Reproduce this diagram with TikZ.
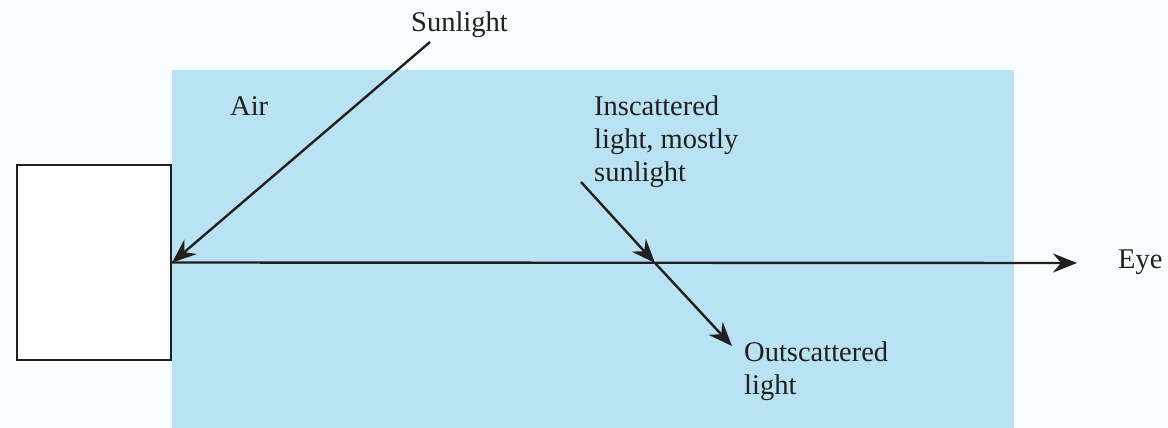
\documentclass[tikz,border=0pt]{standalone}
\usepackage{fontspec}
\setmainfont{Liberation Serif}
\usetikzlibrary{arrows.meta}
\definecolor{airblue}{HTML}{B9E3F3}
\definecolor{paper}{HTML}{F7FCFC}
\definecolor{ink}{HTML}{231F20}
\begin{document}
\begin{tikzpicture}[x=1pt,y=-1pt,>={Stealth[length=24pt,width=19pt,inset=8pt]},
    font=\fontsize{28.5}{33}\selectfont,line width=2.4pt,draw=ink,text=ink]
    \fill[paper] (0,0) rectangle (1168,428);
    \useasboundingbox (0,0) rectangle (1168,428);
    \fill[airblue] (172,70) rectangle (1014,428);
    \node[draw=ink,fill=white,minimum width=154,minimum height=195,inner sep=0] (obj) at (94,262.5) {};
    \node[anchor=base west,inner sep=0] (sun) at (410,32) {Sunlight};
    \node[anchor=base west,inner sep=0] (air) at (229,115) {Air};
    \node[anchor=base west,inner sep=0] (eye) at (1117,268) {Eye};
    \node[anchor=base west,inner sep=0,align=left] (inlbl) at (593,181) {Inscattered\\light, mostly\\sunlight};
    \node[anchor=base west,inner sep=0,align=left] (outlbl) at (743,394) {Outscattered\\light};
    \coordinate (sunstart) at (430,42);
    \coordinate (eyetip) at (1077,263);
    \coordinate (instart) at (581,182);
    \coordinate (cross) at (655,263);
    \coordinate (outend) at (732,346);
    \draw[ink,->] (sunstart) -- (obj.east);
    \draw[ink,->] (obj.east) -- (eyetip);
    \draw[ink,->] (instart) -- (cross);
    \draw[ink,->] (cross) -- (outend);
\end{tikzpicture}
\end{document}
